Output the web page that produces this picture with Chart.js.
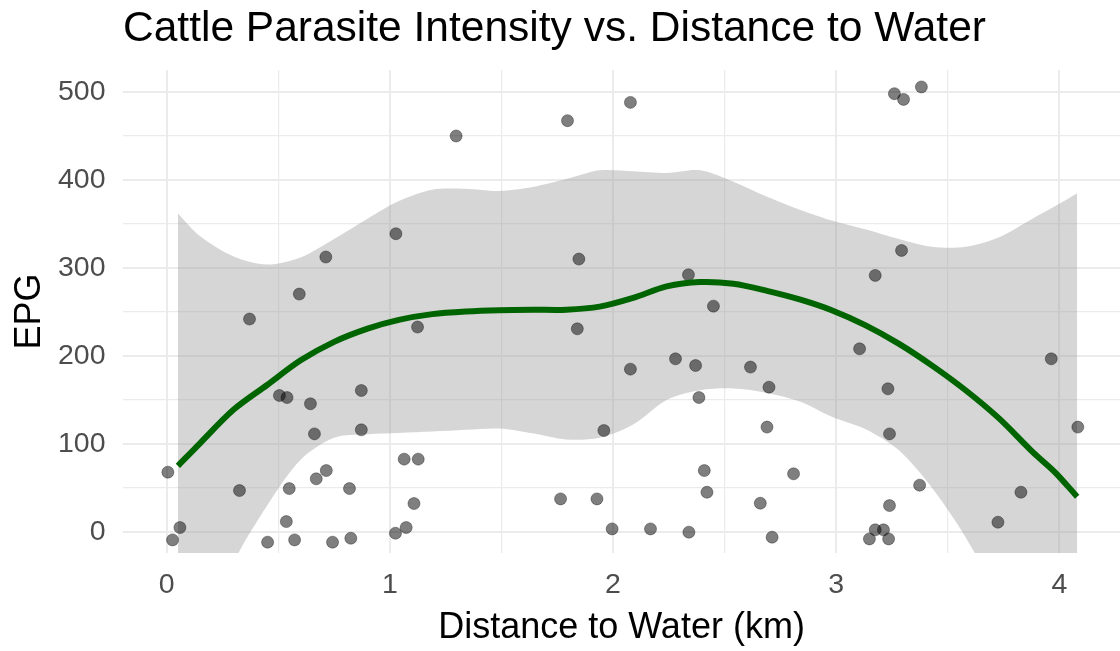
<!DOCTYPE html>
<html>
<head>
<meta charset="utf-8">
<title>Cattle Parasite Intensity vs. Distance to Water</title>
<script src="https://cdn.jsdelivr.net/npm/chart.js@4/dist/chart.umd.min.js"></script>
<style>
  html, body { margin: 0; padding: 0; background: #ffffff; }
  #wrap { width: 1120px; height: 651px; }
</style>
</head>
<body>
<div id="wrap"><canvas id="chart" width="1120" height="651"></canvas></div>
<script>
// Observed animals: distance to nearest water (km) and eggs per gram (EPG)
const distKm = [
  0.005, 0.059, 0.026, 0.326, 0.371, 0.452, 0.505, 0.539, 0.549, 0.594,
  0.573, 0.536, 0.644, 0.662, 0.670, 0.713, 0.715, 0.743, 0.819, 0.825,
  0.872, 0.872, 1.027, 1.025, 1.064, 1.073, 1.108, 1.124, 1.127, 1.297,
  1.765, 1.796, 1.840, 1.847, 1.928, 1.959, 1.996, 2.078, 2.078, 2.168,
  2.280, 2.338, 2.340, 2.370, 2.385, 2.409, 2.421, 2.450, 2.616, 2.660,
  2.690, 2.699, 2.713, 2.809, 3.105, 3.149, 3.175, 3.175, 3.212, 3.232,
  3.235, 3.239, 3.239, 3.261, 3.302, 3.293, 3.374, 3.382, 3.725, 3.828,
  3.964, 4.083
];
const epg = [
  67.9, 4.9, -9.1, 47.0, 241.9, -11.7, 155.0, 152.7, 49.2, 270.3,
  -9.1, 11.7, 145.6, 111.4, 60.3, 312.4, 69.7, -11.7, 49.2, -7.2,
  160.7, 116.0, 338.9, -1.5, 82.7, 4.9, 32.2, 232.8, 82.7, 450.0,
  37.5, 467.4, 230.8, 310.1, 37.5, 115.2, 3.4, 488.2, 185.0, 3.4,
  196.7, 292.2, -0.3, 189.1, 152.7, 69.7, 45.1, 256.6, 187.3, 32.6,
  119.1, 164.5, -6.0, 66.0, 208.1, -8.0, 2.3, 291.5, 2.3, 162.6,
  -8.0, 111.4, 29.9, 498.1, 491.6, 319.9, 53.1, 505.7, 11.0, 45.1,
  196.7, 119.1
];

// LOESS smooth with its 95% confidence band
const fitX = [
  0.05, 0.15, 0.30, 0.45, 0.60, 0.75, 0.90, 1.04, 1.19, 1.34,
  1.49, 1.64, 1.79, 1.94, 2.09, 2.24, 2.39, 2.54, 2.69, 2.84,
  2.98, 3.13, 3.28, 3.43, 3.58, 3.73, 3.88, 3.98, 4.08
];
const fitY = [
  75, 101, 139, 167, 195, 216, 231, 241, 247.5, 250.5,
  252, 252.5, 252.5, 256, 266, 279, 284, 282, 274, 264,
  252, 235, 214, 189, 161, 129, 91, 68, 40
];
const bandUpper = [
  362, 336, 313, 304, 312, 333, 356, 376, 389, 390,
  387.5, 392, 401, 411, 410, 408, 411, 398, 381, 366,
  354, 344, 333, 324, 324, 335, 356, 370, 385
];
const bandLower = [
  -214, -134, -35, 30, 82, 107, 111, 112.5, 114, 116,
  117.5, 112, 105, 107, 122, 150, 161, 163, 158, 148,
  131, 117, 93, 50, -6, -77, -174, -234, -303
];

// Axis ticks: labelled majors plus unlabelled minor grid positions
const xTicks = [0, 0.5, 1, 1.5, 2, 2.5, 3, 3.5, 4];
const yTicks = [0, 50, 100, 150, 200, 250, 300, 350, 400, 450, 500];

const FONT = '"Liberation Sans", Arial, Helvetica, sans-serif';
const GRID = '#ebebeb';

const toPoints = (xs, ys) => xs.map((x, i) => ({ x: x, y: ys[i] }));
const isMajor = (v, step) => Math.abs(v / step - Math.round(v / step)) < 1e-9;

new Chart(document.getElementById('chart'), {
  type: 'scatter',
  data: {
    datasets: [
      {
        label: 'LOESS fit',
        data: toPoints(fitX, fitY),
        showLine: true,
        borderColor: '#006400',
        borderWidth: 6,
        pointRadius: 0,
        tension: 0.3,
        fill: false,
        order: 0
      },
      {
        label: 'Animals',
        data: toPoints(distKm, epg),
        backgroundColor: 'rgba(0,0,0,0.5)',
        borderColor: 'rgba(0,0,0,0.35)',
        borderWidth: 1,
        pointRadius: 6,
        order: 1
      },
      {
        label: 'Upper 95%',
        data: toPoints(fitX, bandUpper),
        showLine: true,
        borderWidth: 0,
        borderColor: 'rgba(0,0,0,0)',
        backgroundColor: 'rgba(153,153,153,0.4)',
        pointRadius: 0,
        tension: 0.3,
        fill: '+1',
        order: 2
      },
      {
        label: 'Lower 95%',
        data: toPoints(fitX, bandLower),
        showLine: true,
        borderWidth: 0,
        borderColor: 'rgba(0,0,0,0)',
        pointRadius: 0,
        tension: 0.3,
        fill: false,
        order: 3
      }
    ]
  },
  options: {
    responsive: false,
    devicePixelRatio: 1,
    animation: false,
    events: [],
    layout: { autoPadding: false, padding: { top: 0, left: 0, right: 0, bottom: 0 } },
    plugins: {
      legend: { display: false },
      tooltip: { enabled: false },
      title: {
        display: true,
        text: 'Cattle Parasite Intensity vs. Distance to Water',
        align: 'start',
        fullSize: false,
        color: '#000000',
        font: { family: FONT, size: 42.5, weight: 'normal', lineHeight: 1.2 },
        padding: { top: 4, bottom: 15 }
      }
    },
    scales: {
      x: {
        type: 'linear',
        min: -0.196,
        max: 4.272,
        afterBuildTicks: (scale) => { scale.ticks = xTicks.map(v => ({ value: v })); },
        afterFit: (scale) => { scale.height = 98; },
        border: { display: false },
        grid: {
          color: GRID,
          drawTicks: false,
          lineWidth: (ctx) => (ctx.tick && isMajor(ctx.tick.value, 1) ? 2 : 1.2)
        },
        ticks: {
          autoSkip: false,
          maxRotation: 0,
          padding: 15,
          color: '#4d4d4d',
          font: { family: FONT, size: 28.5 },
          callback: (v) => (isMajor(v, 1) ? String(v) : '')
        },
        title: {
          display: true,
          text: 'Distance to Water (km)',
          color: '#000000',
          font: { family: FONT, size: 36, lineHeight: 1.2 },
          padding: { top: 0, bottom: 1 }
        }
      },
      y: {
        type: 'linear',
        min: -24,
        max: 525,
        afterBuildTicks: (scale) => { scale.ticks = yTicks.map(v => ({ value: v })); },
        afterFit: (scale) => { scale.width = 123; },
        border: { display: false },
        grid: {
          color: GRID,
          drawTicks: false,
          lineWidth: (ctx) => (ctx.tick && isMajor(ctx.tick.value, 100) ? 2 : 1.2)
        },
        ticks: {
          padding: 17.5,
          color: '#4d4d4d',
          font: { family: FONT, size: 28.5 },
          callback: (v) => (isMajor(v, 100) ? String(v) : '')
        },
        title: {
          display: true,
          text: 'EPG',
          color: '#000000',
          font: { family: FONT, size: 36, lineHeight: 1.2 },
          padding: { top: 8, bottom: 0 }
        }
      }
    }
  }
});
</script>
</body>
</html>
